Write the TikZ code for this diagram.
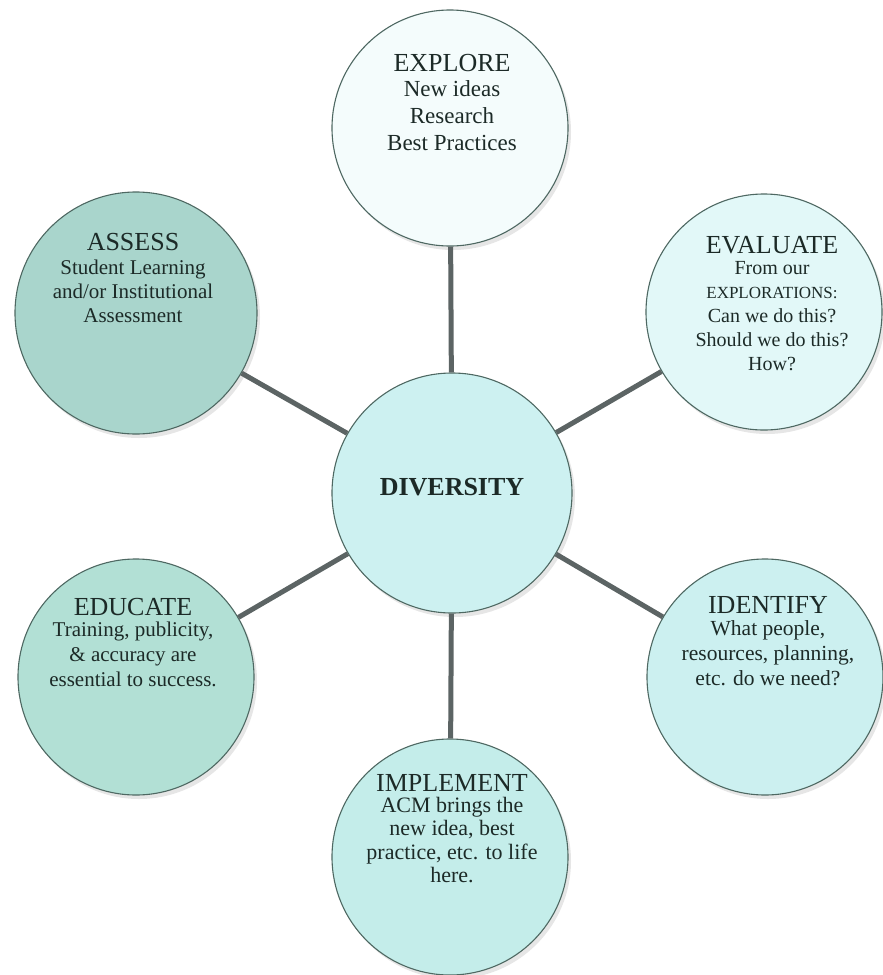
\documentclass[tikz,border=0pt]{standalone}
\usepackage{fontspec}
\setmainfont{Liberation Serif}
\usetikzlibrary{shadows}

\definecolor{rimgrey}{HTML}{4E6862}
\definecolor{spokegrey}{HTML}{5C6464}
\definecolor{inkgreen}{HTML}{1C2A27}
\definecolor{exploreFill}{HTML}{F4FCFC}
\definecolor{evaluateFill}{HTML}{E2F8F8}
\definecolor{hubFill}{HTML}{CDF1F1}
\definecolor{identifyFill}{HTML}{CCF0F0}
\definecolor{implementFill}{HTML}{C4EDEA}
\definecolor{educateFill}{HTML}{B2E0D5}
\definecolor{assessFill}{HTML}{A9D5CC}

\begin{document}
\begin{tikzpicture}[x=1pt,y=-1pt,
  bubble/.style={circle, draw=rimgrey, line width=1.1pt, minimum size=236pt,
    inner sep=0pt, drop shadow={opacity=0.2, shadow xshift=3pt, shadow yshift=-4pt}},
  spoke/.style={draw=spokegrey, line width=5pt},
  head/.style={inner sep=0pt, text=inkgreen, font=\fontsize{26}{28}\selectfont},
  body/.style={inner sep=0pt, anchor=north, align=center, text=inkgreen}]

\useasboundingbox (0,0) rectangle (883,975);

% circles
\node[bubble, fill=hubFill, minimum size=240pt] (div) at (452,493) {};
\node[bubble, fill=exploreFill] (explore) at (450,128) {};
\node[bubble, fill=assessFill, minimum size=242pt] (assess) at (136,313) {};
\node[bubble, fill=evaluateFill] (evaluate) at (764,312) {};
\node[bubble, fill=educateFill] (educate) at (136,677) {};
\node[bubble, fill=identifyFill] (identify) at (765,677) {};
\node[bubble, fill=implementFill] (implement) at (450,857) {};

% spokes from the hub
\draw[spoke] (div) -- (explore);
\draw[spoke] (div) -- (assess);
\draw[spoke] (div) -- (evaluate);
\draw[spoke] (div) -- (educate);
\draw[spoke] (div) -- (identify);
\draw[spoke] (div) -- (implement);

% hub label
\node[head, font=\fontsize{26}{28}\selectfont\bfseries] (divt) at (452,487) {DIVERSITY};

% EXPLORE
\node[head] (exploret) at (452,63) {EXPLORE};
\node[body, font=\fontsize{23}{27}\selectfont] (exploreb) at (452,80.5)
  {New ideas\\Research\\Best Practices};

% ASSESS
\node[head] (assesst) at (133,242) {ASSESS};
\node[body, font=\fontsize{21}{24}\selectfont] (assessb) at (133,260)
  {Student Learning\\and/or Institutional\\Assessment};

% EVALUATE
\node[head] (evaluatet) at (772,245) {EVALUATE};
\node[body, font=\fontsize{20}{24}\selectfont] (evaluateb) at (772,261)
  {From our\\{\fontsize{17}{24}\selectfont EXPLORATIONS:}\\Can we do this?\\Should we do this?\\How?};

% EDUCATE
\node[head] (educatet) at (133,607) {EDUCATE};
\node[body, font=\fontsize{21}{25}\selectfont] (educateb) at (133,622)
  {Training, publicity,\\\& accuracy are\\essential to success.};

% IDENTIFY
\node[head] (identifyt) at (768,605) {IDENTIFY};
\node[body, font=\fontsize{21.5}{25}\selectfont] (identifyb) at (768,620)
  {What people,\\resources, planning,\\etc. do we need?};

% IMPLEMENT
\node[head] (implementt) at (452,783) {IMPLEMENT};
\node[body, font=\fontsize{22}{23.5}\selectfont] (implementb) at (452,797)
  {ACM brings the\\new idea, best\\practice, etc. to life\\here.};

\end{tikzpicture}
\end{document}
